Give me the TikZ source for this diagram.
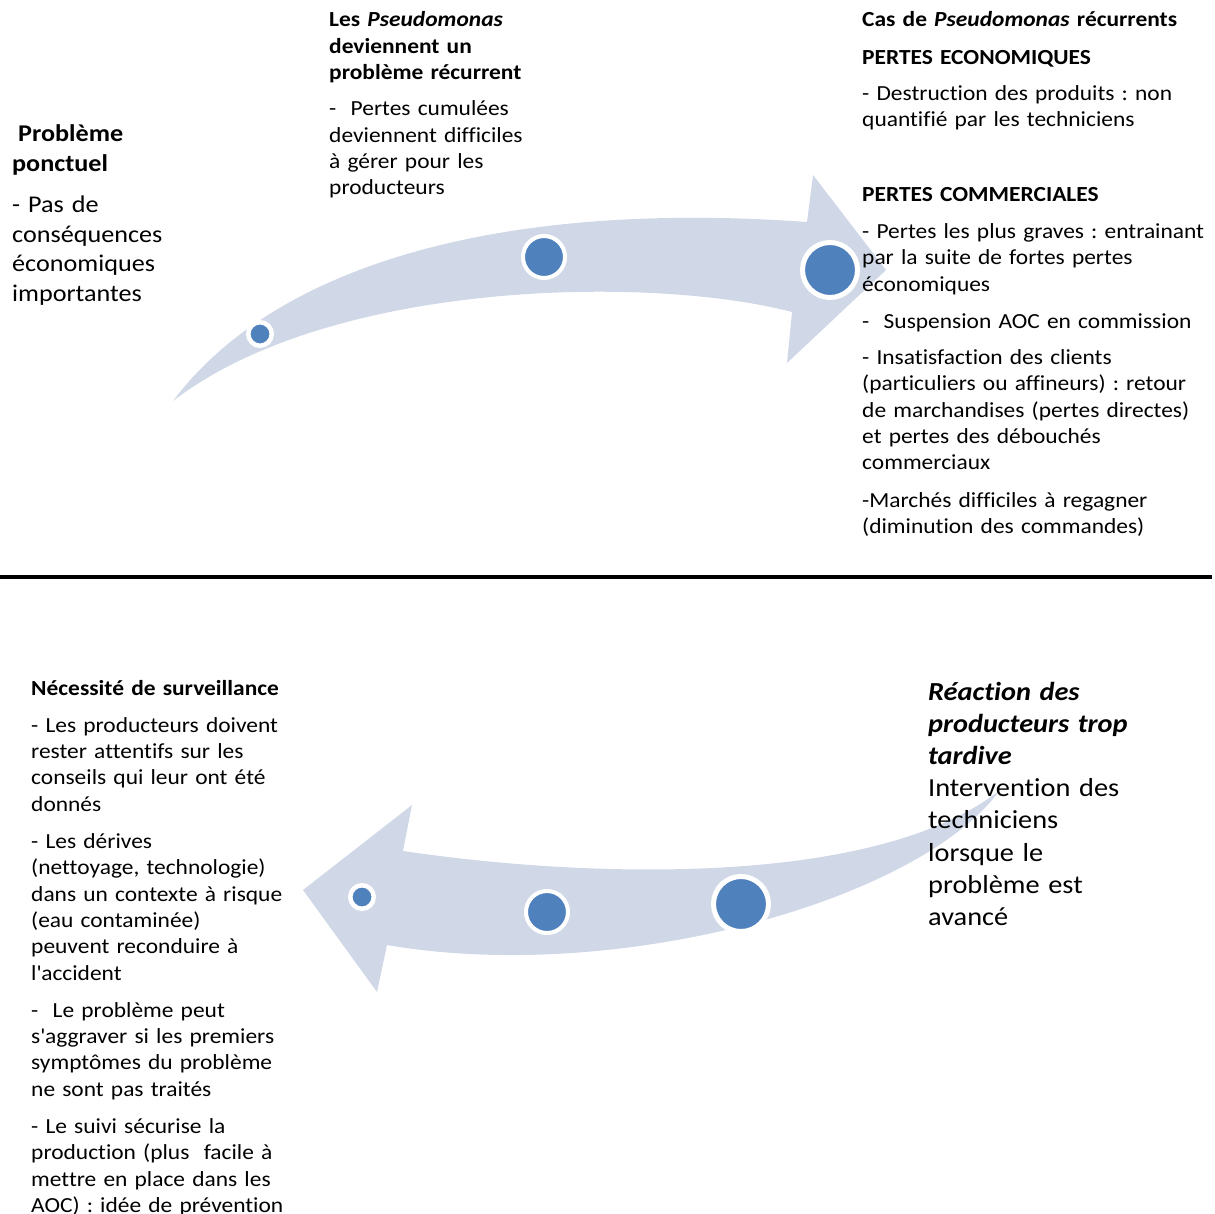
\documentclass[tikz,border=0pt]{standalone}
\usepackage{fontspec}
\setmainfont{Carlito}[FakeStretch=1.09, Ligatures=NoCommon]
\frenchspacing
\usetikzlibrary{positioning}
\definecolor{arrowfill}{HTML}{D0D8E8}
\definecolor{dotblue}{HTML}{4F81BD}

\begin{document}
\begin{tikzpicture}[
    x=1pt, y={(0pt,-1pt)},
    bigarrow/.style={fill=arrowfill, draw=none},
    dot/.style={circle, fill=dotblue, draw=white, inner sep=0pt},
    smalldot/.style={dot, minimum size=23.5pt, line width=4.5pt},
    middot/.style={dot, minimum size=42pt, line width=4pt},
    bigdot/.style={dot, minimum size=55pt, line width=5pt},
    blurb/.style={anchor=base west, align=left, inner sep=0pt, text width=#1, font=\fontsize{21.5}{26.3}\selectfont},
    largeblurb/.style={blurb=#1, font=\fontsize{24}{29.5}\selectfont},
    hugeblurb/.style={blurb=#1, font=\fontsize{26}{32.2}\selectfont},
]
\useasboundingbox (0,0) rectangle (1215,1214);

% --- Top arrow ---
\fill[bigarrow] (173,401) .. controls (275,265) and (500,200) .. (807,222)
    -- (813,175) -- (886,270) -- (787,363) -- (792,312)
    .. controls (650,275) and (330,280) .. (173,401) -- cycle;
\node[smalldot] (t1) at (260,334) {};
\node[middot] (t2) at (544,257) {};
\node[bigdot] (t3) at (830,270) {};

% --- Bottom arrow ---
\fill[bigarrow] (1000,790) .. controls (880,885) and (600,880) .. (403,851)
    -- (412,805) -- (303,890) -- (377,992) -- (387,945)
    .. controls (620,985) and (920,900) .. (1000,790) -- cycle;
\node[smalldot] (b1) at (362,897) {};
\node[middot] (b2) at (547,912) {};
\node[bigdot] (b3) at (741,904) {};

% separator
\draw[line width=4pt] (0,577) -- (1212,577);

% --- Texts ---
\node[largeblurb=200pt] (ponctuel) at (12,142)
    {\textbf{\hspace{6pt}Problème}\\\textbf{ponctuel}\\[12pt]
     - Pas de\\conséquences\\économiques\\importantes};

\node[blurb=240pt] (recurrent) at (329,27)
    {\textbf{Les \textit{Pseudomonas}}\\\textbf{deviennent un}\\\textbf{problème récurrent}\\[10pt]
     -\ \ Pertes cumulées\\deviennent difficiles\\à gérer pour les\\producteurs};

\node[blurb=360pt] (pertes) at (862,27)
    {\textbf{Cas de \textit{Pseudomonas} récurrents}\\[11pt]
     \textbf{PERTES ECONOMIQUES}\\[10pt]
     - Destruction des produits : non\\quantifié par les techniciens\\[48pt]
     \textbf{PERTES COMMERCIALES}\\[11pt]
     - Pertes les plus graves : entrainant\\par la suite de fortes pertes\\économiques\\[11pt]
     -\ \ Suspension AOC en commission\\[10pt]
     - Insatisfaction des clients\\(particuliers ou affineurs) : retour\\de marchandises (pertes directes)\\et pertes des débouchés\\commerciaux\\[11pt]
     -Marchés difficiles à regagner\\(diminution des commandes)};

\node[blurb=280pt] (surveillance) at (31,695)
    {\textbf{Nécessité de surveillance}\\[11pt]
     - Les producteurs doivent\\rester attentifs sur les\\conseils qui leur ont été\\donnés\\[11pt]
     - Les dérives\\(nettoyage, technologie)\\dans un contexte à risque\\(eau contaminée)\\peuvent reconduire à\\l\textquotesingle accident\\[11pt]
     -\ \ Le problème peut\\s\textquotesingle aggraver si les premiers\\symptômes du problème\\ne sont pas traités\\[11pt]
     - Le suivi sécurise la\\production (plus\ \ facile à\\mettre en place dans les\\AOC) : idée de prévention};

\node[hugeblurb=280pt] (reaction) at (928,700)
    {\textbf{\textit{Réaction des}}\\\textbf{\textit{producteurs trop}}\\\textbf{\textit{tardive}}\\
     Intervention des\\techniciens\\lorsque le\\problème est\\avancé};

\end{tikzpicture}
\end{document}
